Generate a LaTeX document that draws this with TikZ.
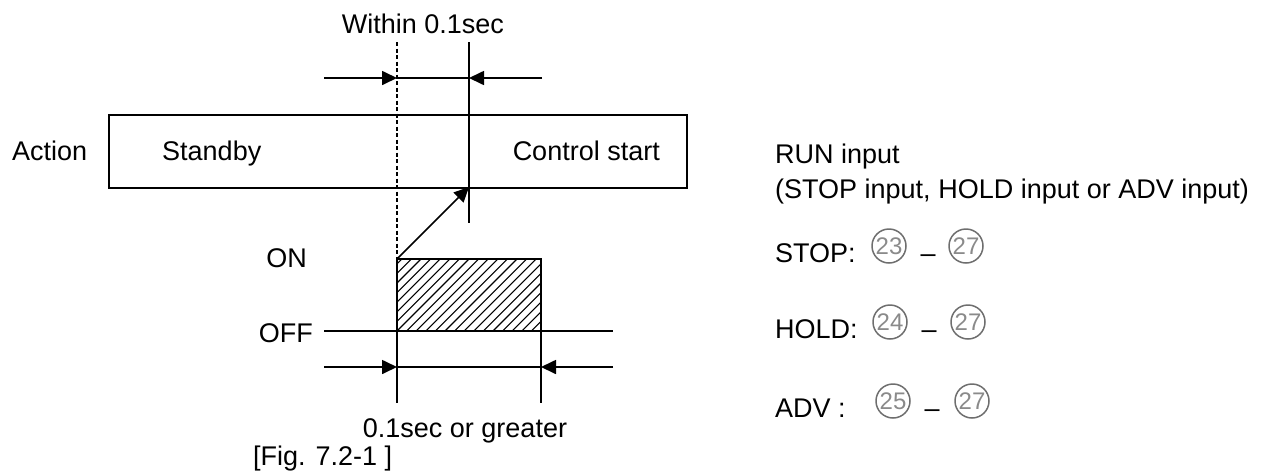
\documentclass[tikz,border=0pt]{standalone}
\usepackage{fontspec}
\setmainfont{Liberation Sans}
\usetikzlibrary{arrows.meta}
\definecolor{cgray}{HTML}{6E6E6E}
\definecolor{dgray}{HTML}{8A8A8A}
\tikzset{
  lbl/.style={inner sep=0pt,font=\fontsize{27}{32}\selectfont},
  ln/.style={line width=1.7pt},
  arr/.style={ln,-{Triangle[length=15pt,width=14pt]}},
  cnum/.style={circle,draw=cgray,line width=1.5pt,minimum size=34pt,inner sep=0pt,
    text=dgray,font=\fontsize{24}{24}\selectfont},
}
\begin{document}
\begin{tikzpicture}[x=1pt,y=-1pt]
\useasboundingbox (0,0) rectangle (1283,475);
% coordinates
\coordinate (dT) at (397,42);
\coordinate (dB) at (397,259);
\coordinate (sT) at (469,42);
\coordinate (sB) at (469,223);
\coordinate (aL) at (324,78);
\coordinate (a1) at (397,78);
\coordinate (a2) at (469,78);
\coordinate (aR) at (542,78);
\coordinate (tip) at (469,187);
\coordinate (offL) at (324,331);
\coordinate (offR) at (613,331);
\coordinate (hL) at (397,259);
\coordinate (hR) at (541,331);
\coordinate (bL) at (324,367);
\coordinate (b1) at (397,367);
\coordinate (b2) at (541,367);
\coordinate (bR) at (613,367);
\coordinate (v1T) at (397,331);
\coordinate (v1B) at (397,403);
\coordinate (v2T) at (541,331);
\coordinate (v2B) at (541,403);

% action box
\node[draw,ln,minimum width=578pt,minimum height=73pt,inner sep=0pt,anchor=north west] (box) at (108,114) {};

% hatching
\begin{scope}
\clip (hL) rectangle (hR);
\foreach \k in {-8,...,22} {
  \draw[line width=1.1pt] (397+\k*9.6,331) -- ++(80,-80);
}
\end{scope}
\draw[ln] (hL) rectangle (hR);

% lines
\draw[ln,dash pattern=on 4pt off 2.5pt] (dT) -- (dB);
\draw[ln] (sT) -- (sB);
\draw[ln] (a1) -- (a2);
\draw[arr] (aL) -- (a1);
\draw[arr] (aR) -- (a2);
\draw[arr] (dB) -- (tip);
\draw[ln] (offL) -- (offR);
\draw[ln] (b1) -- (b2);
\draw[arr] (bL) -- (b1);
\draw[arr] (bR) -- (b2);
\draw[ln] (v1T) -- (v1B);
\draw[ln] (v2T) -- (v2B);

% labels
\node[lbl,anchor=base] (within) at (423,33) {Within 0.1sec};
\node[lbl,anchor=base west] (action) at (12,160) {Action};
\node[lbl,anchor=base west] (standby) at (162,160) {Standby};
\node[lbl,anchor=base east] (cstart) at (660,160) {Control start};
\node[lbl,anchor=base east] (on) at (307,267) {ON};
\node[lbl,anchor=base east] (off) at (313,342) {OFF};
\node[lbl,anchor=base] (gr) at (465,437) {0.1sec or greater};
\node[lbl,anchor=base west] (fig) at (253,465) {[Fig. 7.2-1 ]};
\node[lbl,anchor=base west] (run) at (775,163) {RUN input};
\node[lbl,anchor=base west] (runb) at (775,198) {(STOP input, HOLD input or ADV input)};

\node[lbl,anchor=base west] (stop) at (775,262) {STOP:};
\node[cnum] (c23) at (889,246) {23};
\node[lbl,anchor=base] (d1) at (928,262) {–};
\node[cnum] (c27a) at (966,246) {27};

\node[lbl,anchor=base west] (hold) at (775,338) {HOLD:};
\node[cnum] (c24) at (890,322) {24};
\node[lbl,anchor=base] (d2) at (929,338) {–};
\node[cnum] (c27b) at (968,322) {27};

\node[lbl,anchor=base west] (adv) at (775,417) {ADV :};
\node[cnum] (c25) at (893,401) {25};
\node[lbl,anchor=base] (d3) at (932,417) {–};
\node[cnum] (c27c) at (972,401) {27};
\end{tikzpicture}
\end{document}
